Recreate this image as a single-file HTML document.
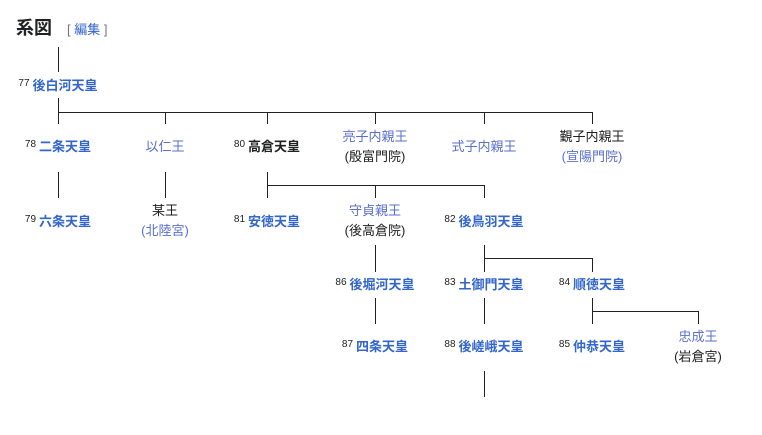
<!DOCTYPE html>
<html><head><meta charset="utf-8"><style>
body{margin:0;width:762px;height:435px;background:#fff;position:relative;font-family:"Liberation Sans","Noto Sans CJK JP",sans-serif;color:#202122;overflow:hidden}
.v{position:absolute;width:1px;background:#222}
.h{position:absolute;height:1px;background:#222}
.t{position:absolute;width:200px;text-align:center;font-size:13px;line-height:20px;white-space:nowrap}
.b{font-weight:bold;color:#3366cc}
.k{font-weight:bold;color:#202122}
.l{color:#5a6fd0}
sup{font-size:10px;font-weight:normal;color:#202122;vertical-align:4px;line-height:0;margin-right:3px}
</style></head><body>
<div style="position:absolute;left:16px;top:16px;font-size:18px;font-weight:bold;line-height:24px">系図</div>
<div style="position:absolute;left:67px;top:20px;font-size:13px;line-height:20px;color:#72777d">[ <span style="color:#3366cc">編集</span> ]</div>

<div class="v" style="left:58px;top:47px;height:25px"></div>
<div class="t" style="left:-42px;top:76px"><sup>77</sup><span class="b">後白河天皇</span></div>
<div class="v" style="left:58px;top:98px;height:26px"></div>
<div class="h" style="left:58px;top:112px;width:535px"></div>
<div class="v" style="left:165px;top:112px;height:12px"></div>
<div class="v" style="left:267px;top:112px;height:12px"></div>
<div class="v" style="left:375px;top:112px;height:12px"></div>
<div class="v" style="left:484px;top:112px;height:12px"></div>
<div class="v" style="left:592px;top:112px;height:12px"></div>

<div class="t" style="left:-42px;top:137px"><sup>78</sup><span class="b">二条天皇</span></div>
<div class="t" style="left:65px;top:137px"><span class="l">以仁王</span></div>
<div class="t" style="left:167px;top:137px"><sup>80</sup><span class="k">高倉天皇</span></div>
<div class="t" style="left:275px;top:127px"><span class="l">亮子内親王</span><br>(殷富門院)</div>
<div class="t" style="left:384px;top:137px"><span class="l">式子内親王</span></div>
<div class="t" style="left:492px;top:127px">覲子内親王<br><span class="l">(宣陽門院)</span></div>

<div class="v" style="left:58px;top:172px;height:26px"></div>
<div class="v" style="left:165px;top:172px;height:26px"></div>
<div class="v" style="left:267px;top:172px;height:26px"></div>
<div class="h" style="left:267px;top:185px;width:218px"></div>
<div class="v" style="left:375px;top:185px;height:13px"></div>
<div class="v" style="left:484px;top:185px;height:13px"></div>

<div class="t" style="left:-42px;top:212px"><sup>79</sup><span class="b">六条天皇</span></div>
<div class="t" style="left:65px;top:201px">某王<br><span class="l">(北陸宮)</span></div>
<div class="t" style="left:167px;top:212px"><sup>81</sup><span class="b">安徳天皇</span></div>
<div class="t" style="left:275px;top:201px"><span class="l">守貞親王</span><br>(後高倉院)</div>
<div class="t" style="left:384px;top:212px"><sup>82</sup><span class="b">後鳥羽天皇</span></div>

<div class="v" style="left:375px;top:245px;height:27px"></div>
<div class="v" style="left:484px;top:245px;height:27px"></div>
<div class="h" style="left:484px;top:258px;width:109px"></div>
<div class="v" style="left:592px;top:258px;height:14px"></div>

<div class="t" style="left:275px;top:275px"><sup>86</sup><span class="b">後堀河天皇</span></div>
<div class="t" style="left:384px;top:275px"><sup>83</sup><span class="b">土御門天皇</span></div>
<div class="t" style="left:492px;top:275px"><sup>84</sup><span class="b">順徳天皇</span></div>

<div class="v" style="left:375px;top:298px;height:26px"></div>
<div class="v" style="left:484px;top:298px;height:26px"></div>
<div class="v" style="left:592px;top:298px;height:26px"></div>
<div class="h" style="left:592px;top:311px;width:107px"></div>
<div class="v" style="left:698px;top:311px;height:13px"></div>

<div class="t" style="left:275px;top:337px"><sup>87</sup><span class="b">四条天皇</span></div>
<div class="t" style="left:384px;top:337px"><sup>88</sup><span class="b">後嵯峨天皇</span></div>
<div class="t" style="left:492px;top:337px"><sup>85</sup><span class="b">仲恭天皇</span></div>
<div class="t" style="left:598px;top:327px"><span class="l">忠成王</span><br>(岩倉宮)</div>

<div class="v" style="left:484px;top:371px;height:26px"></div>
</body></html>
